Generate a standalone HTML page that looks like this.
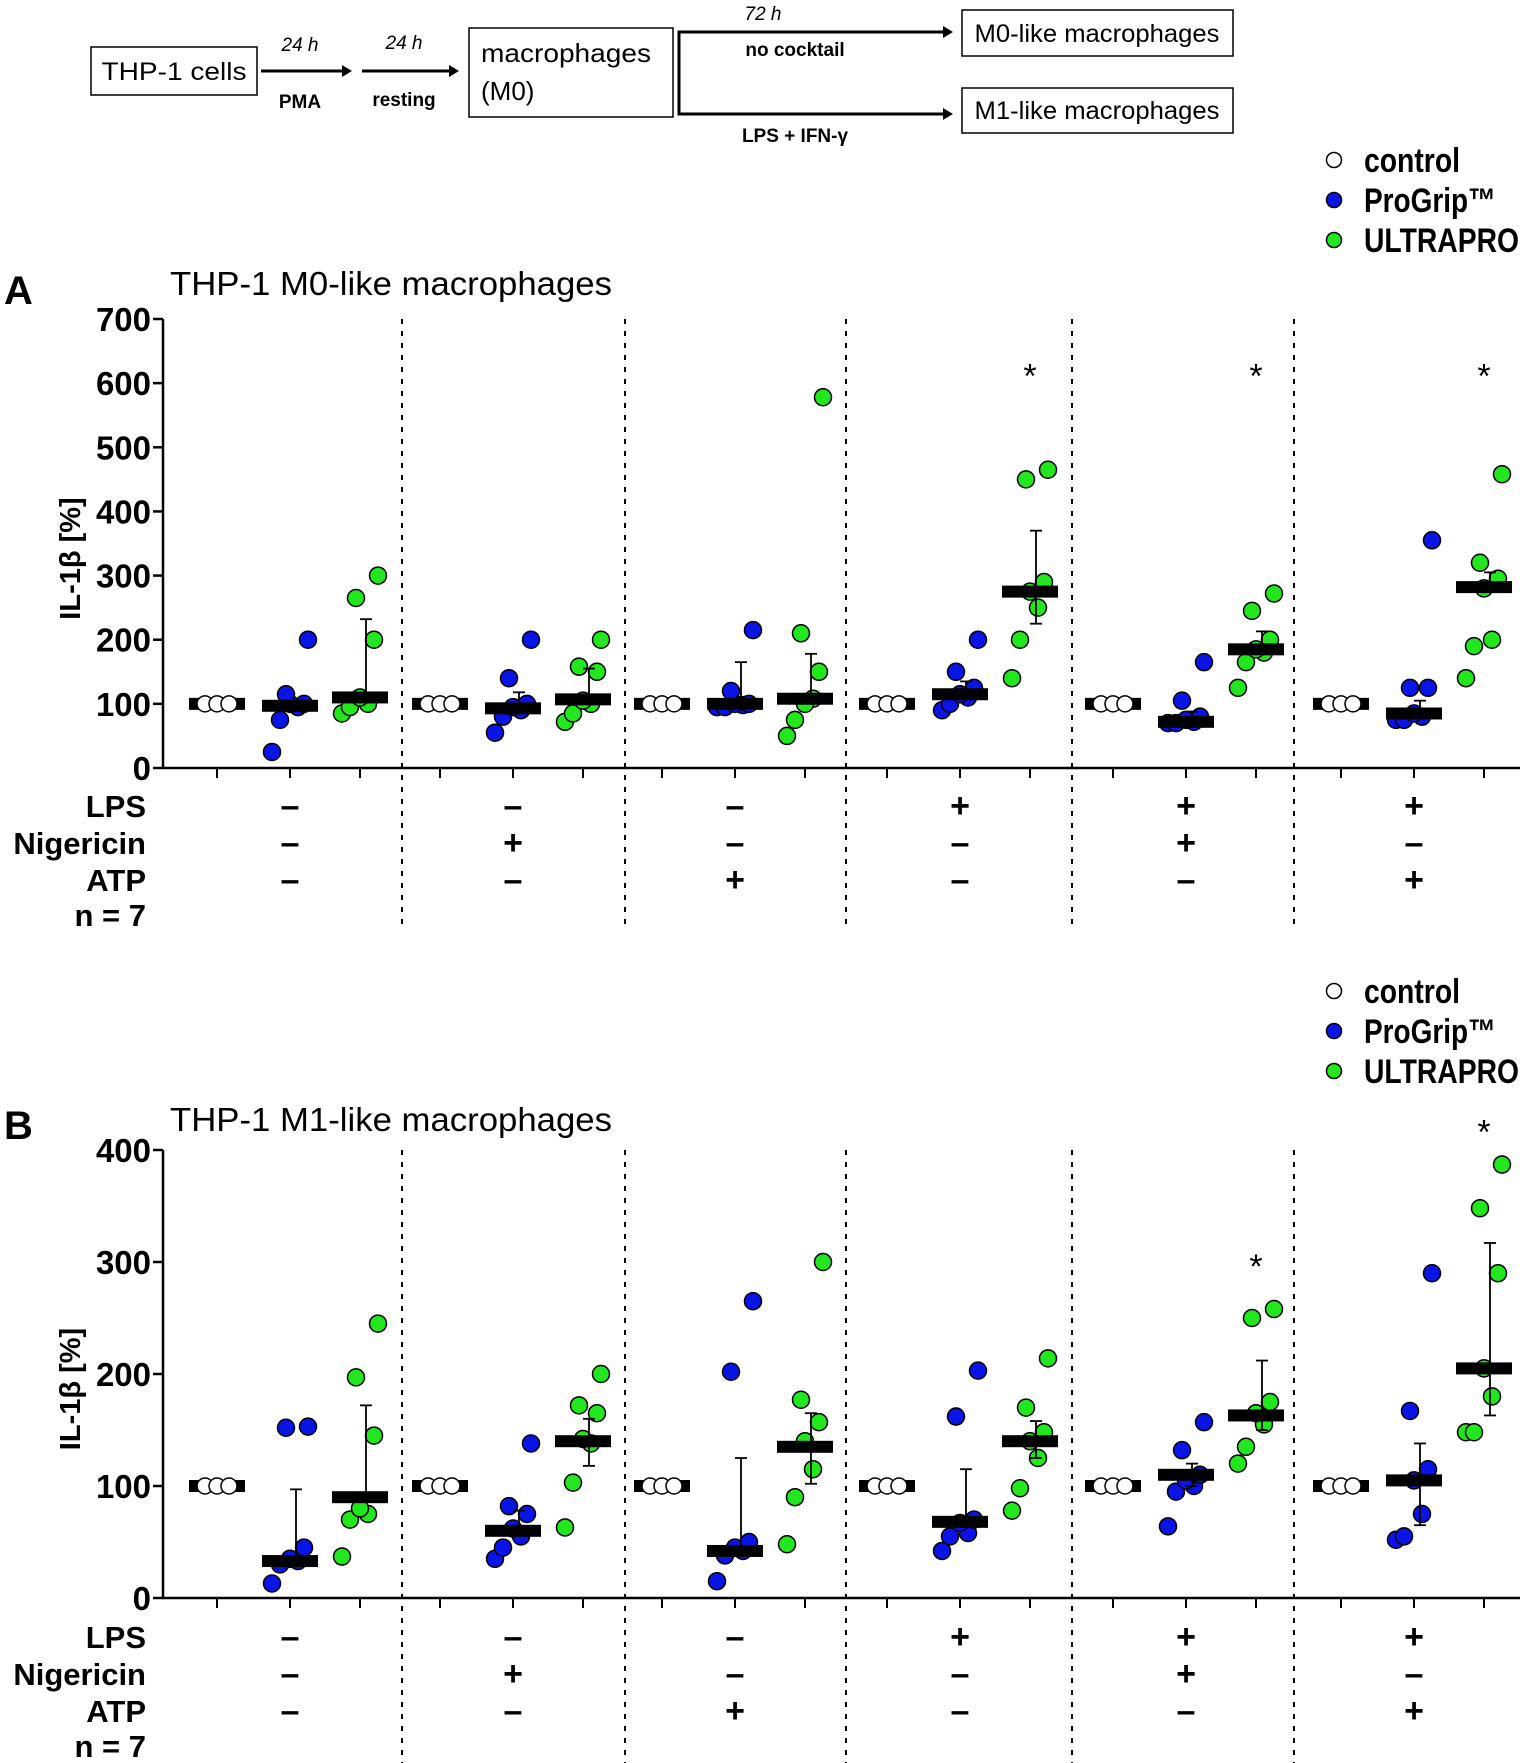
<!DOCTYPE html>
<html><head><meta charset="utf-8"><style>
html,body{margin:0;padding:0;background:#fff;}
svg{display:block;font-family:"Liberation Sans",Arial,sans-serif;}
</style></head><body>
<svg id="fig" width="1524" height="1763" viewBox="0 0 1524 1763" xmlns="http://www.w3.org/2000/svg">
<g>
  <rect x="91" y="47" width="166" height="48" fill="#fff" stroke="#000" stroke-width="1.5"/>
  <text x="174" y="80" font-size="25" text-anchor="middle" textLength="145" lengthAdjust="spacingAndGlyphs">THP-1 cells</text>
  <line x1="261" y1="71" x2="345" y2="71" stroke="#000" stroke-width="3"/><polygon points="352,71 342,65 342,77"/>
  <text x="300" y="51" font-size="19" font-style="italic" text-anchor="middle">24 h</text>
  <text x="300" y="108" font-size="19" font-weight="bold" text-anchor="middle">PMA</text>
  <line x1="362" y1="71" x2="452" y2="71" stroke="#000" stroke-width="3"/><polygon points="459,71 449,65 449,77"/>
  <text x="404" y="49" font-size="19" font-style="italic" text-anchor="middle">24 h</text>
  <text x="404" y="106" font-size="19" font-weight="bold" text-anchor="middle">resting</text>
  <rect x="469" y="28" width="204" height="89" fill="#fff" stroke="#000" stroke-width="1.5"/>
  <text x="481" y="62" font-size="26" textLength="170" lengthAdjust="spacingAndGlyphs">macrophages</text>
  <text x="481" y="100" font-size="26">(M0)</text>
  <polyline points="946,32 679,32 679,114 946,114" fill="none" stroke="#000" stroke-width="3"/>
  <polygon points="953,32 943,26 943,38"/><polygon points="953,114 943,108 943,120"/>
  <text x="763" y="20" font-size="19" font-style="italic" text-anchor="middle">72 h</text>
  <text x="795" y="56" font-size="19" font-weight="bold" text-anchor="middle">no cocktail</text>
  <text x="795" y="142" font-size="19" font-weight="bold" text-anchor="middle">LPS + IFN-γ</text>
  <rect x="962" y="10" width="271" height="46" fill="#fff" stroke="#000" stroke-width="1.5"/>
  <text x="1097" y="42" font-size="25" text-anchor="middle" textLength="245" lengthAdjust="spacingAndGlyphs">M0-like macrophages</text>
  <rect x="962" y="88" width="271" height="45" fill="#fff" stroke="#000" stroke-width="1.5"/>
  <text x="1097" y="119" font-size="25" text-anchor="middle" textLength="245" lengthAdjust="spacingAndGlyphs">M1-like macrophages</text>
</g>
<g id="panels"></g>
</svg>
<script>
const groupsLPS = ['–','–','–','+','+','+'];
const groupsNig = ['–','+','–','–','+','–'];
const groupsATP = ['–','–','+','–','–','+'];
// Panel A values
const aTicks = [0,100,200,300,400,500,600,700];
const aControl = [[100,100,100],[100,100,100],[100,100,100],[100,100,100],[100,100,100],[100,100,100]];
const aProGrip = [[25,75,95,100,100,115,200],[55,80,90,95,100,140,200],[95,95,98,100,100,120,215],[90,100,110,115,125,150,200],[70,70,72,75,80,105,165],[75,75,80,85,125,125,355]];
const aUltra = [[85,95,100,110,200,265,300],[72,85,100,105,150,158,200],[50,75,108,100,150,210,578],[140,200,250,275,290,450,465],[125,165,180,185,200,245,272],[140,190,200,280,295,320,458]];
const aPMed = [97,93,100,115,72,85];
const aPUp = [105,118,165,135,88,105];
const aUMed = [110,107,108,275,185,282];
const aUUp = [232,155,178,370,213,305];
const aULo = [null,null,null,225,null,null];
const aStars = [null,null,null,618,618,618];
// Panel B values
const bTicks = [0,100,200,300,400];
const bControl = aControl;
const bProGrip = [[13,30,33,35,45,152,153],[35,45,55,62,75,82,138],[15,38,42,45,50,202,265],[42,55,58,67,70,162,203],[64,95,100,105,110,132,157],[52,55,75,105,115,167,290]];
const bUltra = [[37,70,75,80,145,197,245],[63,103,138,142,165,172,200],[48,90,115,140,157,177,300],[78,98,125,140,148,170,214],[120,135,155,165,175,250,258],[148,148,180,205,290,348,387]];
const bPMed = [33,60,42,68,110,105];
const bPUp = [97,78,125,115,120,138];
const bPLo = [null,null,null,null,100,65];
const bUMed = [90,140,135,140,163,205];
const bUUp = [172,160,165,158,212,317];
const bULo = [null,118,102,125,150,163];
const bStars = [null,null,null,null,300,420];

const NS='http://www.w3.org/2000/svg';
const root=document.getElementById('panels');
function mk(tag,attrs,parent,txt){const e=document.createElementNS(NS,tag);for(const k in attrs)e.setAttribute(k,attrs[k]);if(txt!==undefined)e.textContent=txt;parent.appendChild(e);return e;}

const xAxisL=163, xAxisR=1520;
const divX=[402,625,846,1072,1294];
const gCenter=[290,513,735,960,1186,1414];
const colOff=[-73,0,70];
const jit=[-18,-10,8,0,14,-4,18];
const legW=[96,132,155];

function panel(o){
  const g=mk('g',{},root);
  
  
  const y=v=>o.y0-(v-o.tmin)*(o.y0-o.ytop)/(o.tmax-o.tmin);
  const lab=mk('text',{x:4,y:o.letterY,'font-size':40,'font-weight':'bold'},g,o.letter);
  
  
  const t=mk('text',{x:170,y:o.titleY,'font-size':33,textLength:442,lengthAdjust:'spacingAndGlyphs'},g,o.title);
  
  
  const leg=[['control','#fff'],['ProGrip™','#0a14e6'],['ULTRAPRO','#22e61e']];
  leg.forEach((l,i)=>{
    const ly=o.legY+i*40;
    const lg=mk('g',{},g);
    
    
    mk('circle',{cx:1334,cy:ly,r:7.5,fill:l[1],stroke:'#000','stroke-width':1.5},lg);
    mk('text',{x:1364,y:ly+12,'font-size':34,'font-weight':'bold',textLength:legW[i],lengthAdjust:'spacingAndGlyphs'},lg,l[0]);
  });
  const ax=mk('g',{},g);
  
  
  mk('line',{x1:xAxisL,y1:o.ytop,x2:xAxisL,y2:o.y0,stroke:'#000','stroke-width':2.5},ax);
  o.ticks.forEach(v=>{
    mk('line',{x1:xAxisL-10,y1:y(v),x2:xAxisL,y2:y(v),stroke:'#000','stroke-width':2.5},ax);
    const tl=mk('text',{x:xAxisL-12,y:y(v)+12,'font-size':33,'font-weight':'bold','text-anchor':'end'},ax,String(v));
    
    
  });
  const yt=mk('text',{x:0,y:0,'font-size':29,'font-weight':'bold','text-anchor':'middle',transform:`translate(80,${(o.ytop+o.y0)/2+15}) rotate(-90)`},g,'IL-1β [%]');
  
  
  mk('line',{x1:xAxisL,y1:o.y0,x2:xAxisR,y2:o.y0,stroke:'#000','stroke-width':2.5},g);
  gCenter.forEach(c=>colOff.forEach(d=>mk('line',{x1:c+d,y1:o.y0,x2:c+d,y2:o.y0+10,stroke:'#000','stroke-width':2},g)));
  divX.forEach(x=>{
    const dl=mk('line',{x1:x,y1:o.ytop,x2:x,y2:o.divBot,stroke:'#000','stroke-width':2,'stroke-dasharray':'5,7'},g);
    
    
  });
  const rows=[['LPS',groupsLPS],['Nigericin',groupsNig],['ATP',groupsATP]];
  rows.forEach((r,i)=>{
    const ry=o.rowY+i*37;
    const rl=mk('text',{x:146,y:ry,'font-size':31,'font-weight':'bold','text-anchor':'end'},g,r[0]);
    
    
    r[1].forEach((s,j)=>mk('text',{x:gCenter[j],y:ry,'font-size':34,'font-weight':'bold','text-anchor':'middle'},g,s));
  });
  mk('text',{x:146,y:o.rowY+3*37-2,'font-size':31,'font-weight':'bold','text-anchor':'end'},g,'n = 7');
  const series=[[o.ctrl,'#fff',null,null,null,'control'],[o.pg,'#0a14e6',o.pMed,o.pUp,o.pLo,'progrip'],[o.ul,'#22e61e',o.uMed,o.uUp,o.uLo,'ultrapro']];
  gCenter.forEach((c,gi)=>{
    series.forEach((s,si)=>{
      const cx=c+colOff[si];
      const sg=mk('g',{},g);
      
      
      if(si===0){
        mk('rect',{x:cx-28,y:y(100)-6,width:56,height:12,fill:'#000'},sg);
        s[0][gi].forEach((v,k)=>mk('circle',{cx:cx+(k-1)*12,cy:y(v),r:8,fill:'#fff',stroke:'#000','stroke-width':1.5},sg));
        return;
      }
      s[0][gi].forEach((v,k)=>mk('circle',{cx:cx+jit[k],cy:y(v),r:8.5,fill:s[1],stroke:'#000','stroke-width':1.5},sg));
      const m=s[2][gi],u=s[3][gi],lo=s[4]?s[4][gi]:null;
      mk('line',{x1:cx+6,y1:y(m),x2:cx+6,y2:y(u),stroke:'#000','stroke-width':1.8},sg);
      mk('line',{x1:cx,y1:y(u),x2:cx+12,y2:y(u),stroke:'#000','stroke-width':1.8},sg);
      if(lo!==null){
        mk('line',{x1:cx+6,y1:y(m),x2:cx+6,y2:y(lo),stroke:'#000','stroke-width':1.8},sg);
        mk('line',{x1:cx,y1:y(lo),x2:cx+12,y2:y(lo),stroke:'#000','stroke-width':1.8},sg);
      }
      const mb=mk('rect',{x:cx-28,y:y(m)-6,width:56,height:12,fill:'#000'},sg);
      
      
    });
    if(o.stars[gi]!==null){
      const st=mk('text',{x:c+colOff[2],y:y(o.stars[gi])+16,'font-size':34,'text-anchor':'middle'},g,'*');
      
      
    }
  });
}
panel({name:'panel-a',letter:'A',letterY:304,title:'THP-1 M0-like macrophages',titleY:295,legY:160,
  ytop:319,y0:768,tmin:0,tmax:700,ticks:aTicks,divBot:930,rowY:817,
  ctrl:aControl,pg:aProGrip,ul:aUltra,pMed:aPMed,pUp:aPUp,pLo:null,uMed:aUMed,uUp:aUUp,uLo:aULo,stars:aStars});
panel({name:'panel-b',letter:'B',letterY:1139,title:'THP-1 M1-like macrophages',titleY:1131,legY:991,
  ytop:1150,y0:1598,tmin:0,tmax:400,ticks:bTicks,divBot:1763,rowY:1648,
  ctrl:bControl,pg:bProGrip,ul:bUltra,pMed:bPMed,pUp:bPUp,pLo:bPLo,uMed:bUMed,uUp:bUUp,uLo:bULo,stars:bStars});
</script>
</body></html>
